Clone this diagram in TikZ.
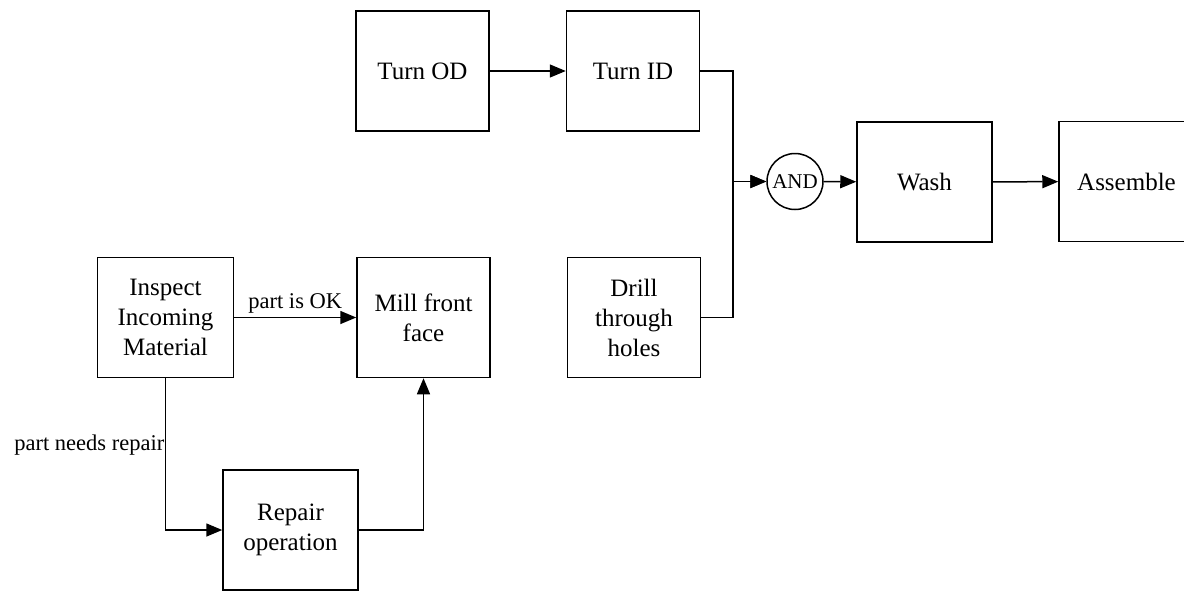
\documentclass[tikz,border=0pt]{standalone}
\usepackage{fontspec}
\setmainfont{Liberation Serif}
\usetikzlibrary{arrows.meta}
\begin{document}
\begin{tikzpicture}[x=1pt,y=-1pt,
  proc/.style={draw, line width=1.5pt, minimum width=133pt, minimum height=120pt, align=center, inner sep=2pt,
    font=\fontsize{25}{30}\selectfont},
  gate/.style={draw, circle, line width=1.5pt, minimum size=56pt, inner sep=0pt, font=\fontsize{21}{25}\selectfont},
  conn/.style={line width=1.5pt, -{Triangle[length=16pt,width=13pt]}},
  lbl/.style={font=\fontsize{22.5}{27}\selectfont}]
\clip (0,0) rectangle (1184,592);
\node[proc] (turnod) at (422.5,71) {Turn OD};
\node[proc] (turnid) at (633,71) {Turn ID};
\node[proc, minimum width=136pt] (inspect) at (165.5,317.5) {Inspect\\Incoming\\Material};
\node[proc] (mill) at (423.5,317.5) {Mill front\\face};
\node[proc] (drill) at (634,317.5) {Drill\\through\\holes};
\node[proc, minimum width=135pt] (repair) at (290.5,530) {Repair\\operation};
\node[gate] (and) at (795,181.5) {AND};
\node[proc, minimum width=135pt] (wash) at (924.5,182) {Wash};
\node[proc, minimum width=135pt] (assemble) at (1126.5,181.5) {Assemble};
\coordinate (j) at (733,181.5);
\draw[conn] (turnod) -- (turnid);
\draw[conn] (turnid.east) -| (j) -- (and.west);
\draw[conn] (drill.east) -| (j) -- (and.west);
\draw[conn] (and) -- (wash);
\draw[conn] (wash) -- (assemble);
\draw[conn] (inspect) -- node[lbl, above, inner sep=3pt] {part is OK} (mill);
\draw[conn] (inspect.south) |- node[lbl, pos=0.22, left, inner sep=0.5pt] {part needs repair} (repair.west);
\draw[conn] (repair.east) -| (mill.south);
\end{tikzpicture}
\end{document}
